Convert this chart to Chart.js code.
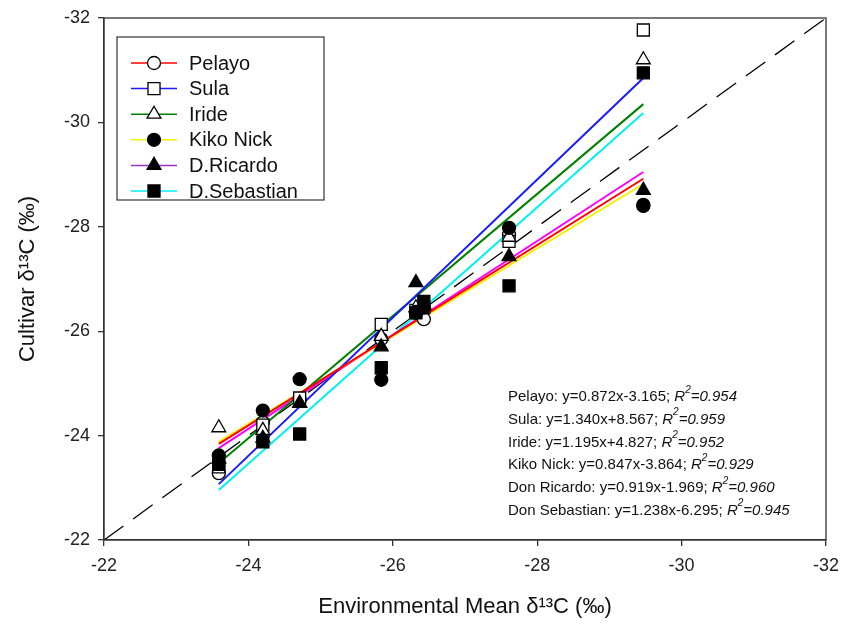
<!DOCTYPE html>
<html>
<head>
<meta charset="utf-8">
<script src="https://cdn.jsdelivr.net/npm/chart.js@4.4.0/dist/chart.umd.min.js"></script>
<style>
  html, body { margin: 0; padding: 0; background: #fff; }
  #wrap { width: 841px; height: 628px; }
</style>
</head>
<body>
<div id="wrap"><canvas id="chart" width="841" height="628"></canvas></div>
<script>
// ---- data ----
const envMean = [-23.59, -24.2, -24.71, -25.84, -26.32, -26.43, -27.61, -29.47];
const pelayo = [-23.28, -24.25, -24.7, -25.85, -26.35, -26.23, -27.85, -28.42];
const sula = [-23.4, -24.2, -24.72, -26.13, -26.4, -26.45, -27.72, -31.77];
const iride = [-24.15, -24.1, -24.62, -25.9, -26.45, -26.5, -27.8, -31.2];
const kikoNick = [-23.62, -24.48, -25.08, -25.07, -26.37, -26.45, -27.98, -28.4];
const dRicardo = [-23.55, -23.95, -24.62, -25.7, -26.93, -26.5, -27.43, -28.7];
const dSebastian = [-23.45, -23.88, -24.03, -25.3, -26.35, -26.57, -26.87, -30.95];

// regression line ends (at the first and last environment)
const fitX = [-23.59, -29.47];
const fitPelayo = [-23.84, -28.92];
const fitSula = [-23.07, -30.85];
const fitIride = [-23.47, -30.35];
const fitKiko = [-23.88, -28.82];
const fitRicardo = [-23.76, -29.05];
const fitSebastian = [-22.96, -30.18];

// 1:1 line
const oneToOneX = [-22, -32];
const oneToOneY = [-22, -32];

const cultivars = ['Pelayo', 'Sula', 'Iride', 'Kiko Nick', 'D.Ricardo', 'D.Sebastian'];
const equations = [
    ['Pelayo: y=0.872x-3.165; ', '0.954'],
    ['Sula: y=1.340x+8.567; ', '0.959'],
    ['Iride: y=1.195x+4.827; ', '0.952'],
    ['Kiko Nick: y=0.847x-3.864; ', '0.929'],
    ['Don Ricardo: y=0.919x-1.969; ', '0.960'],
    ['Don Sebastian: y=1.238x-6.295; ', '0.945']
];
const axisTicks = [-22, -24, -26, -28, -30, -32];

const FONT = 'Arial, "Liberation Sans", sans-serif';
const lineColors = ['#ff0000', '#1a1aff', '#008000', '#f2f200', '#ff00ff', '#00f0f0'];
const legendColors = ['#ff0000', '#1a1aff', '#008000', '#f2f200', '#9933cc', '#00f0f0'];
const markers = [
    { style: 'circle', fill: '#fff', r: 6.5 },
    { style: 'rect', fill: '#fff', r: 8.5 },
    { style: 'triangle', fill: '#fff', r: 8 },
    { style: 'circle', fill: '#000', r: 6.5 },
    { style: 'triangle', fill: '#000', r: 8 },
    { style: 'rect', fill: '#000', r: 8.5 }
];
const seriesY = [pelayo, sula, iride, kikoNick, dRicardo, dSebastian];
const fitY = [fitPelayo, fitSula, fitIride, fitKiko, fitRicardo, fitSebastian];

function pairs(xs, ys) {
    return xs.map((x, i) => ({ x: x, y: ys[i] }));
}

const datasets = [];
// points on top, later cultivars drawn over earlier ones
cultivars.forEach((name, i) => {
    datasets.push({
        label: name,
        data: pairs(envMean, seriesY[i]),
        showLine: false,
        pointStyle: markers[i].style,
        pointRadius: markers[i].r,
        pointBackgroundColor: markers[i].fill,
        pointBorderColor: '#000',
        pointBorderWidth: 1.3,
        order: -i
    });
});
// fitted lines
cultivars.forEach((name, i) => {
    datasets.push({
        label: name + ' fit',
        data: pairs(fitX, fitY[i]),
        showLine: true,
        borderColor: lineColors[i],
        borderWidth: 2,
        pointRadius: 0,
        order: 1
    });
});
datasets.push({
    label: '1:1',
    data: pairs(oneToOneX, oneToOneY),
    showLine: true,
    borderColor: '#000',
    borderWidth: 1.3,
    borderDash: [24, 12],
    pointRadius: 0,
    order: 2
});

// frame, legend box and equation text
const extras = {
    id: 'extras',
    afterDraw(chart) {
        const ctx = chart.ctx;
        const a = chart.chartArea;
        ctx.save();
        ctx.strokeStyle = '#333';
        ctx.lineWidth = 1.3;
        ctx.strokeRect(a.left, a.top, a.right - a.left, a.bottom - a.top);

        // legend
        const lx = 117, ly = 37, lw = 207, lh = 163;
        ctx.fillStyle = '#fff';
        ctx.fillRect(lx, ly, lw, lh);
        ctx.strokeStyle = '#333';
        ctx.lineWidth = 1.2;
        ctx.strokeRect(lx, ly, lw, lh);
        ctx.font = '20px ' + FONT;
        ctx.textBaseline = 'middle';
        cultivars.forEach((name, i) => {
            const y = 63 + i * 25.6;
            ctx.strokeStyle = legendColors[i];
            ctx.lineWidth = 1.5;
            ctx.beginPath();
            ctx.moveTo(131, y);
            ctx.lineTo(177, y);
            ctx.stroke();
            ctx.fillStyle = markers[i].fill;
            ctx.strokeStyle = '#000';
            ctx.lineWidth = 1.3;
            Chart.helpers.drawPoint(ctx, {
                pointStyle: markers[i].style,
                radius: markers[i].r,
                borderWidth: 1.3
            }, 154, y);
            ctx.fillStyle = '#111';
            ctx.fillText(name, 189, y + 1);
        });

        // equations
        ctx.fillStyle = '#111';
        equations.forEach((eq, i) => {
            const y = 397 + i * 22.7;
            let x = 508;
            ctx.font = '15px ' + FONT;
            ctx.fillText(eq[0], x, y);
            x += ctx.measureText(eq[0]).width;
            ctx.font = 'italic 15px ' + FONT;
            ctx.fillText('R', x, y);
            x += ctx.measureText('R').width;
            ctx.font = 'italic 10px ' + FONT;
            ctx.fillText('2', x, y - 7);
            x += ctx.measureText('2').width;
            ctx.font = 'italic 15px ' + FONT;
            ctx.fillText('=' + eq[1], x, y);
        });
        ctx.restore();
    }
};

new Chart(document.getElementById('chart'), {
    type: 'scatter',
    data: { datasets: datasets },
    plugins: [extras],
    options: {
        responsive: false,
        animation: false,
        layout: { padding: { top: 18, right: 15, left: 0, bottom: 0 } },
        plugins: { legend: { display: false }, tooltip: { enabled: false } },
        scales: {
            x: {
                type: 'linear',
                min: -32,
                max: -22,
                reverse: true,
                afterBuildTicks(scale) {
                    scale.ticks = axisTicks.map(v => ({ value: v }));
                },
                afterFit(scale) {
                    scale.height = 88;
                    scale.paddingLeft = 0;
                    scale.paddingRight = 0;
                },
                ticks: { font: { size: 18, family: FONT }, color: '#222', padding: 9 },
                grid: { display: true, drawOnChartArea: false, drawTicks: true, tickLength: 6, color: '#333', lineWidth: 1.3 },
                border: { display: true, color: '#333', width: 1.3 },
                title: {
                    display: true,
                    text: 'Environmental Mean δ¹³C (‰)',
                    font: { size: 22, family: FONT },
                    color: '#111',
                    padding: { top: 0, bottom: 8 }
                }
            },
            y: {
                type: 'linear',
                min: -32,
                max: -22,
                reverse: true,
                afterBuildTicks(scale) {
                    scale.ticks = axisTicks.map(v => ({ value: v }));
                },
                afterFit(scale) {
                    scale.width = 104;
                    scale.paddingTop = 0;
                    scale.paddingBottom = 0;
                },
                ticks: { font: { size: 18, family: FONT }, color: '#222', padding: 8 },
                grid: { display: true, drawOnChartArea: false, drawTicks: true, tickLength: 6, color: '#333', lineWidth: 1.3 },
                border: { display: true, color: '#333', width: 1.3 },
                title: {
                    display: true,
                    text: 'Cultivar δ¹³C (‰)',
                    font: { size: 22, family: FONT },
                    color: '#111',
                    padding: { top: 15, bottom: 0 }
                }
            }
        }
    }
});
</script>
</body>
</html>
